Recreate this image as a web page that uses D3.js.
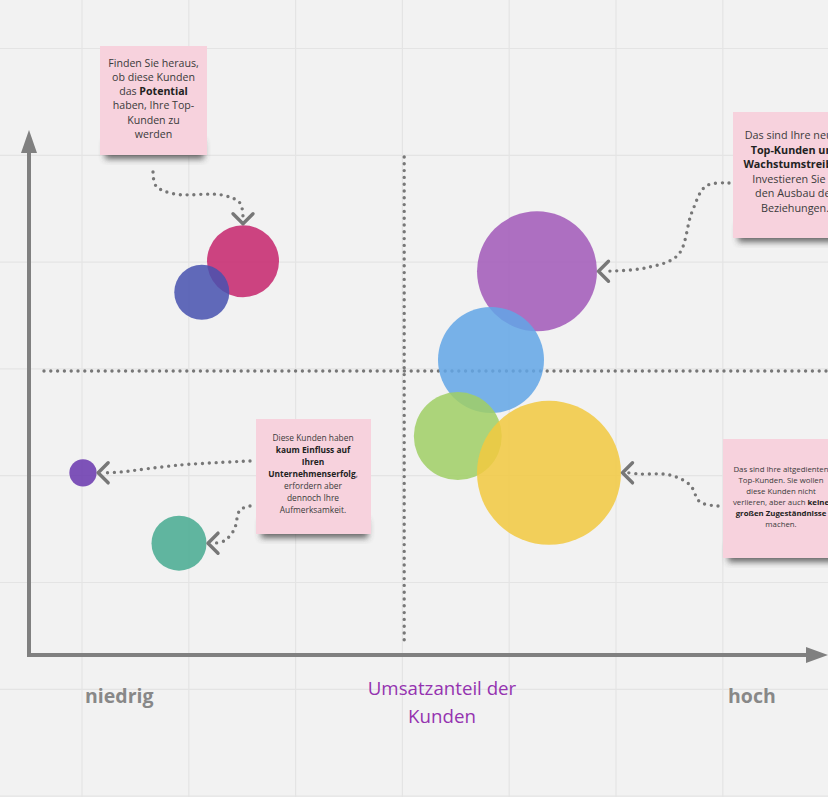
<!DOCTYPE html>
<html><head><meta charset="utf-8">
<script src="https://cdn.jsdelivr.net/npm/d3@7/dist/d3.min.js"></script>
<style>
html,body{margin:0;padding:0;background:#f2f2f2;overflow:hidden;}
svg{display:block;font-family:"Open Sans",sans-serif;}
</style></head>
<body>
<script>
// ---- data ----
const customers = ["Neu-Top A","Neu-Top B","Neu-Top C","Alt-Top","Potenzial A","Potenzial B","Klein A","Klein B"];
const revenueShare = [63.5, 57.75, 53.6, 65, 26.75, 21.6, 6.75, 18.75];   // x (Umsatzanteil)
const potential    = [73.1, 56.2, 41.7, 34.7, 75, 69.1, 34.7, 21.3];       // y
const sizeValues   = [69.4, 54.2, 37.3, 100, 25, 14.6, 3.6, 14.6];         // bubble size
const palette      = ["#a158b9","#62a6e6","#a0cf65","#f2c940","#c5256c","#4751af","#6836ae","#46aa91"];
const xDivider = 46.9, yDivider = 54.1;
const axisLabels = ["niedrig","hoch"];
const axisTitle = ["Umsatzanteil der","Kunden"];
const noteTexts = [
  ["Finden Sie heraus,","ob diese Kunden","das **Potential**","haben, Ihre Top-","Kunden zu","werden"],
  ["Das sind Ihre neuen","**Top-Kunden und**","**Wachstumstreiber.**","Investieren Sie in","den Ausbau der","Beziehungen."],
  ["Das sind Ihre altgedienten","Top-Kunden. Sie wollen","diese Kunden nicht","verlieren, aber auch **keine**","**großen Zugeständnisse**","machen."],
  ["Diese Kunden haben","**kaum Einfluss auf**","**Ihren**","**Unternehmenserfolg**,","erfordern aber","dennoch Ihre","Aufmerksamkeit."]
];

// ---- setup ----
const W = 828, H = 797;
const svg = d3.select("body").append("svg").attr("width", W).attr("height", H);
const x = d3.scaleLinear().domain([0,100]).range([29, 829]);
const y = d3.scaleLinear().domain([0,100]).range([655, 130]);
const r = d3.scaleSqrt().domain([0,100]).range([0,72]);

const defs = svg.append("defs");
const f = defs.append("filter").attr("id","shadow").attr("x","-30%").attr("y","-30%").attr("width","160%").attr("height","160%");
f.append("feGaussianBlur").attr("stdDeviation", 3.2);

svg.append("rect").attr("width",W).attr("height",H).attr("fill","#f2f2f2");

// grid
const gridX = d3.range(82, W, 106.8), gridY = d3.range(48.5, H+2, 106.8);
svg.append("g").selectAll("line").data(gridX).join("line")
  .attr("x1",d=>d).attr("x2",d=>d).attr("y1",0).attr("y2",H)
  .attr("stroke","#e4e4e4").attr("stroke-width",1.2);
svg.append("g").selectAll("line").data(gridY).join("line")
  .attr("y1",d=>d).attr("y2",d=>d).attr("x1",0).attr("x2",W)
  .attr("stroke","#e4e4e4").attr("stroke-width",1.2);

// axes arrows
const ax = svg.append("g").attr("stroke","#808080").attr("fill","#808080");
const x0 = x(0), y0 = y(0), yTop = y(100), xEnd = x(100)-1;
ax.append("line").attr("x1",x0).attr("x2",x0).attr("y1",y0+2).attr("y2",yTop+20).attr("stroke-width",4);
ax.append("path").attr("stroke","none").attr("d",`M${x0},${yTop} L${x0-8},${yTop+23} L${x0+8},${yTop+23}Z`);
ax.append("line").attr("x1",x0-2).attr("x2",xEnd-20).attr("y1",y0).attr("y2",y0).attr("stroke-width",4);
ax.append("path").attr("stroke","none").attr("d",`M${xEnd},${y0} L${xEnd-22},${y0-8} L${xEnd-22},${y0+8}Z`);

// dotted dividers
const dotted = sel => sel.attr("stroke","#777").attr("stroke-width",3.4)
  .attr("stroke-linecap","round").attr("stroke-dasharray","0 6.8").attr("fill","none");
svg.append("line").attr("x1",x(xDivider)).attr("x2",x(xDivider)).attr("y1",157).attr("y2",640).call(dotted);
svg.append("line").attr("x1",44).attr("x2",W).attr("y1",y(yDivider)).attr("y2",y(yDivider)).call(dotted);

// bubbles
const data = customers.map((c,i)=>({c, x:revenueShare[i], y:potential[i], s:sizeValues[i], col:palette[i]}));
svg.append("g").selectAll("circle").data(data).join("circle")
  .attr("cx",d=>x(d.x)).attr("cy",d=>y(d.y)).attr("r",d=>r(d.s))
  .attr("fill",d=>d.col).attr("fill-opacity",0.85);

// notes
const notes = [
  {x:100, y:46, w:107, h:109, fs:10.6, lh:14.3, ty:66.5, cx:153.5},
  {x:733, y:112, w:124, h:126, fs:10.8, lh:14.6, ty:139, cx:795},
  {x:723, y:439, w:118, h:119, fs:7.8, lh:11, ty:472, cx:781},
  {x:256, y:419, w:115, h:115, fs:8.4, lh:12, ty:441, cx:313}
];
notes.forEach((n,i)=>{
  const g = svg.append("g");
  g.append("rect").attr("x",n.x+5).attr("y",n.y+n.h-14).attr("width",n.w-8).attr("height",18)
    .attr("fill","#3a3a3a").attr("opacity",0.75).attr("filter","url(#shadow)");
  g.append("rect").attr("x",n.x).attr("y",n.y).attr("width",n.w).attr("height",n.h).attr("fill","#f7d2dd");
  noteTexts[i].forEach((line,k)=>{
    const t = g.append("text").attr("x",n.cx).attr("y",n.ty+k*n.lh)
      .attr("text-anchor","middle").attr("font-size",n.fs).attr("fill","#333");
    line.split("**").forEach((seg,j)=>{
      if(seg) t.append("tspan").text(seg).attr("font-weight", j%2 ? "bold":"normal").attr("fill", j%2 ? "#222":"#3a3a3a");
    });
  });
});

// arrows
function edge(i, dir){ // point on bubble edge
  const d = data[i], rr = r(d.s);
  return dir==="top" ? [x(d.x), y(d.y)-rr] : [x(d.x)+rr, y(d.y)];
}
const arrows = [
  {pts:[[153,172],[156,186],[175,194],[222,195],[240,203]], to:edge(4,"top"), dir:[0,1]},
  {pts:[[729,183],[706,186],[692,212],[678,255],[645,268]], to:edge(0,"right"), dir:[-1,0]},
  {pts:[[718,506],[700,502],[690,485],[670,475],[640,474]], to:edge(3,"right"), dir:[-1,0]},
  {pts:[[250,461],[180,465],[120,472]], to:edge(6,"right"), dir:[-1,0]},
  {pts:[[250,506],[240,510],[234,530],[224,541]], to:edge(7,"right"), dir:[-1,0]}
];
const lineGen = d3.line().curve(d3.curveCatmullRom.alpha(0.5));
arrows.forEach(a=>{
  const tip = [a.to[0] - a.dir[0]*1.5, a.to[1] - a.dir[1]*1.5];
  const end = [tip[0]-a.dir[0]*6, tip[1]-a.dir[1]*6];
  svg.append("path").attr("d", lineGen([...a.pts, end])).call(dotted);
  const L = 10, px = -a.dir[1], py = a.dir[0];
  const b1 = [tip[0]-a.dir[0]*L + px*L, tip[1]-a.dir[1]*L + py*L];
  const b2 = [tip[0]-a.dir[0]*L - px*L, tip[1]-a.dir[1]*L - py*L];
  svg.append("path").attr("d",`M${b1}L${tip}L${b2}`).attr("fill","none")
    .attr("stroke","#777").attr("stroke-width",3.4).attr("stroke-linecap","round").attr("stroke-linejoin","round");
});

// labels
svg.append("text").attr("x",85).attr("y",703).attr("font-size",19.5).attr("font-weight","bold")
  .attr("fill","#888").text(axisLabels[0]);
svg.append("text").attr("x",728).attr("y",703).attr("font-size",19.5).attr("font-weight","bold")
  .attr("fill","#888").text(axisLabels[1]);
axisTitle.forEach((t,k)=>svg.append("text").attr("x",442).attr("y",695+k*28).attr("text-anchor","middle")
  .attr("font-size",18.7).attr("fill","#9533b0").text(t));
</script>
</body></html>
